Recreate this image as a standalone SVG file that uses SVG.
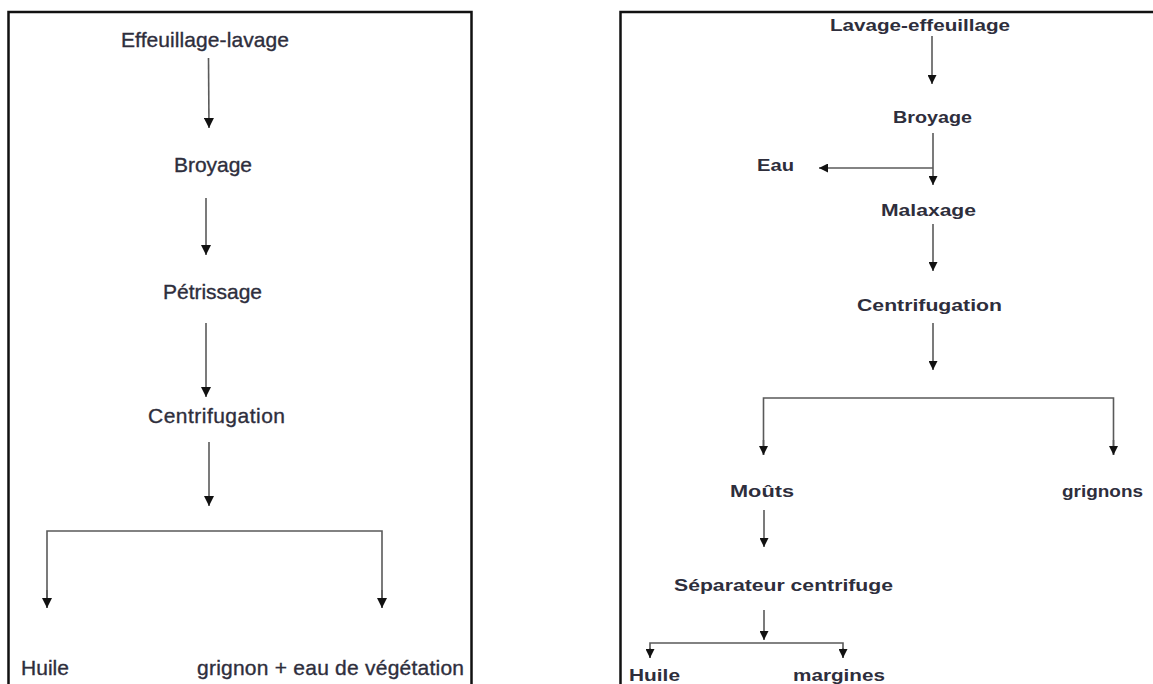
<svg xmlns="http://www.w3.org/2000/svg" width="1153" height="684" viewBox="0 0 1153 684">
<style>
.frame{fill:none;stroke:#111;stroke-width:2.5}
.ln{fill:none;stroke:#5a5a5a;stroke-width:1.6}
.al{marker-end:url(#ahL)}
.ar{marker-end:url(#ahR)}
.tl{font-family:"Liberation Sans",Arial,sans-serif;font-size:21px;fill:#2e2e3c;stroke:#2e2e3c;stroke-width:0.35}
.tr{font-family:"Liberation Sans",Arial,sans-serif;font-size:17px;font-weight:bold;fill:#2e2e3c}
</style>
<defs>
<marker id="ahL" viewBox="0 0 10 10" refX="10" refY="5" markerWidth="11" markerHeight="10" markerUnits="userSpaceOnUse" orient="auto"><path d="M0,0 L10,5 L0,10 z" fill="#111"/></marker>
<marker id="ahR" viewBox="0 0 10 10" refX="10" refY="5" markerWidth="9" markerHeight="9" markerUnits="userSpaceOnUse" orient="auto"><path d="M0,0 L10,5 L0,10 z" fill="#111"/></marker>
</defs>
<rect width="1153" height="684" fill="#fff"/>
<g id="panel-left">
<rect class="frame" x="8.5" y="12" width="463" height="720"/>
</g>
<g id="panel-right">
<rect class="frame" x="620.5" y="12" width="600" height="720"/>
</g>
<g id="connectors">
<line class="ln al" x1="208.5" y1="58" x2="209" y2="128"/>
<line class="ln al" x1="206" y1="198" x2="206" y2="255"/>
<line class="ln al" x1="206" y1="323" x2="206" y2="397"/>
<line class="ln al" x1="209" y1="442" x2="209" y2="506"/>
<polyline class="ln" points="47,608 47,531 382,531 382,608"/>
<line class="ln al" x1="47" y1="590" x2="47" y2="608"/>
<line class="ln al" x1="382" y1="590" x2="382" y2="608"/>
<line class="ln ar" x1="932" y1="36" x2="932" y2="84"/>
<line class="ln ar" x1="933" y1="133" x2="933" y2="185"/>
<line class="ln ar" x1="933" y1="168" x2="819" y2="168"/>
<line class="ln ar" x1="933" y1="224" x2="933" y2="271"/>
<line class="ln ar" x1="933" y1="323" x2="933" y2="370"/>
<polyline class="ln" points="763.5,455 763.5,398 1113.5,398 1113.5,455"/>
<line class="ln ar" x1="763.5" y1="440" x2="763.5" y2="455"/>
<line class="ln ar" x1="1113.5" y1="440" x2="1113.5" y2="455"/>
<line class="ln ar" x1="764" y1="510" x2="764" y2="547"/>
<line class="ln ar" x1="764" y1="610" x2="764" y2="640"/>
<polyline class="ln" points="650,658 650,643 843,643 843,658"/>
<line class="ln ar" x1="650" y1="648" x2="650" y2="658"/>
<line class="ln ar" x1="843" y1="648" x2="843" y2="658"/>
</g>
<g id="n-effeuillage-lavage"><text class="tl" x="121" y="47" textLength="168">Effeuillage-lavage</text></g>
<g id="n-broyage-l"><text class="tl" x="174" y="172" textLength="78">Broyage</text></g>
<g id="n-petrissage"><text class="tl" x="163" y="299" textLength="99">Pétrissage</text></g>
<g id="n-centrifugation-l"><text class="tl" x="148" y="423" textLength="137">Centrifugation</text></g>
<g id="n-huile-l"><text class="tl" x="21" y="675" textLength="48">Huile</text></g>
<g id="n-grignon-eau"><text class="tl" x="197" y="675" textLength="267">grignon + eau de végétation</text></g>
<g id="n-lavage-effeuillage"><text class="tr" x="830" y="31" textLength="180" lengthAdjust="spacingAndGlyphs">Lavage-effeuillage</text></g>
<g id="n-broyage-r"><text class="tr" x="893" y="123" textLength="79" lengthAdjust="spacingAndGlyphs">Broyage</text></g>
<g id="n-eau"><text class="tr" x="757" y="171" textLength="37" lengthAdjust="spacingAndGlyphs">Eau</text></g>
<g id="n-malaxage"><text class="tr" x="881" y="216" textLength="95" lengthAdjust="spacingAndGlyphs">Malaxage</text></g>
<g id="n-centrifugation-r"><text class="tr" x="857" y="311" textLength="145" lengthAdjust="spacingAndGlyphs">Centrifugation</text></g>
<g id="n-mouts"><text class="tr" x="730" y="497" textLength="64" lengthAdjust="spacingAndGlyphs">Moûts</text></g>
<g id="n-grignons"><text class="tr" x="1062" y="497" textLength="81" lengthAdjust="spacingAndGlyphs">grignons</text></g>
<g id="n-separateur"><text class="tr" x="674" y="591" textLength="219" lengthAdjust="spacingAndGlyphs">Séparateur centrifuge</text></g>
<g id="n-huile-r"><text class="tr" x="629" y="681" textLength="51" lengthAdjust="spacingAndGlyphs">Huile</text></g>
<g id="n-margines"><text class="tr" x="793" y="681" textLength="92" lengthAdjust="spacingAndGlyphs">margines</text></g>
</svg>
